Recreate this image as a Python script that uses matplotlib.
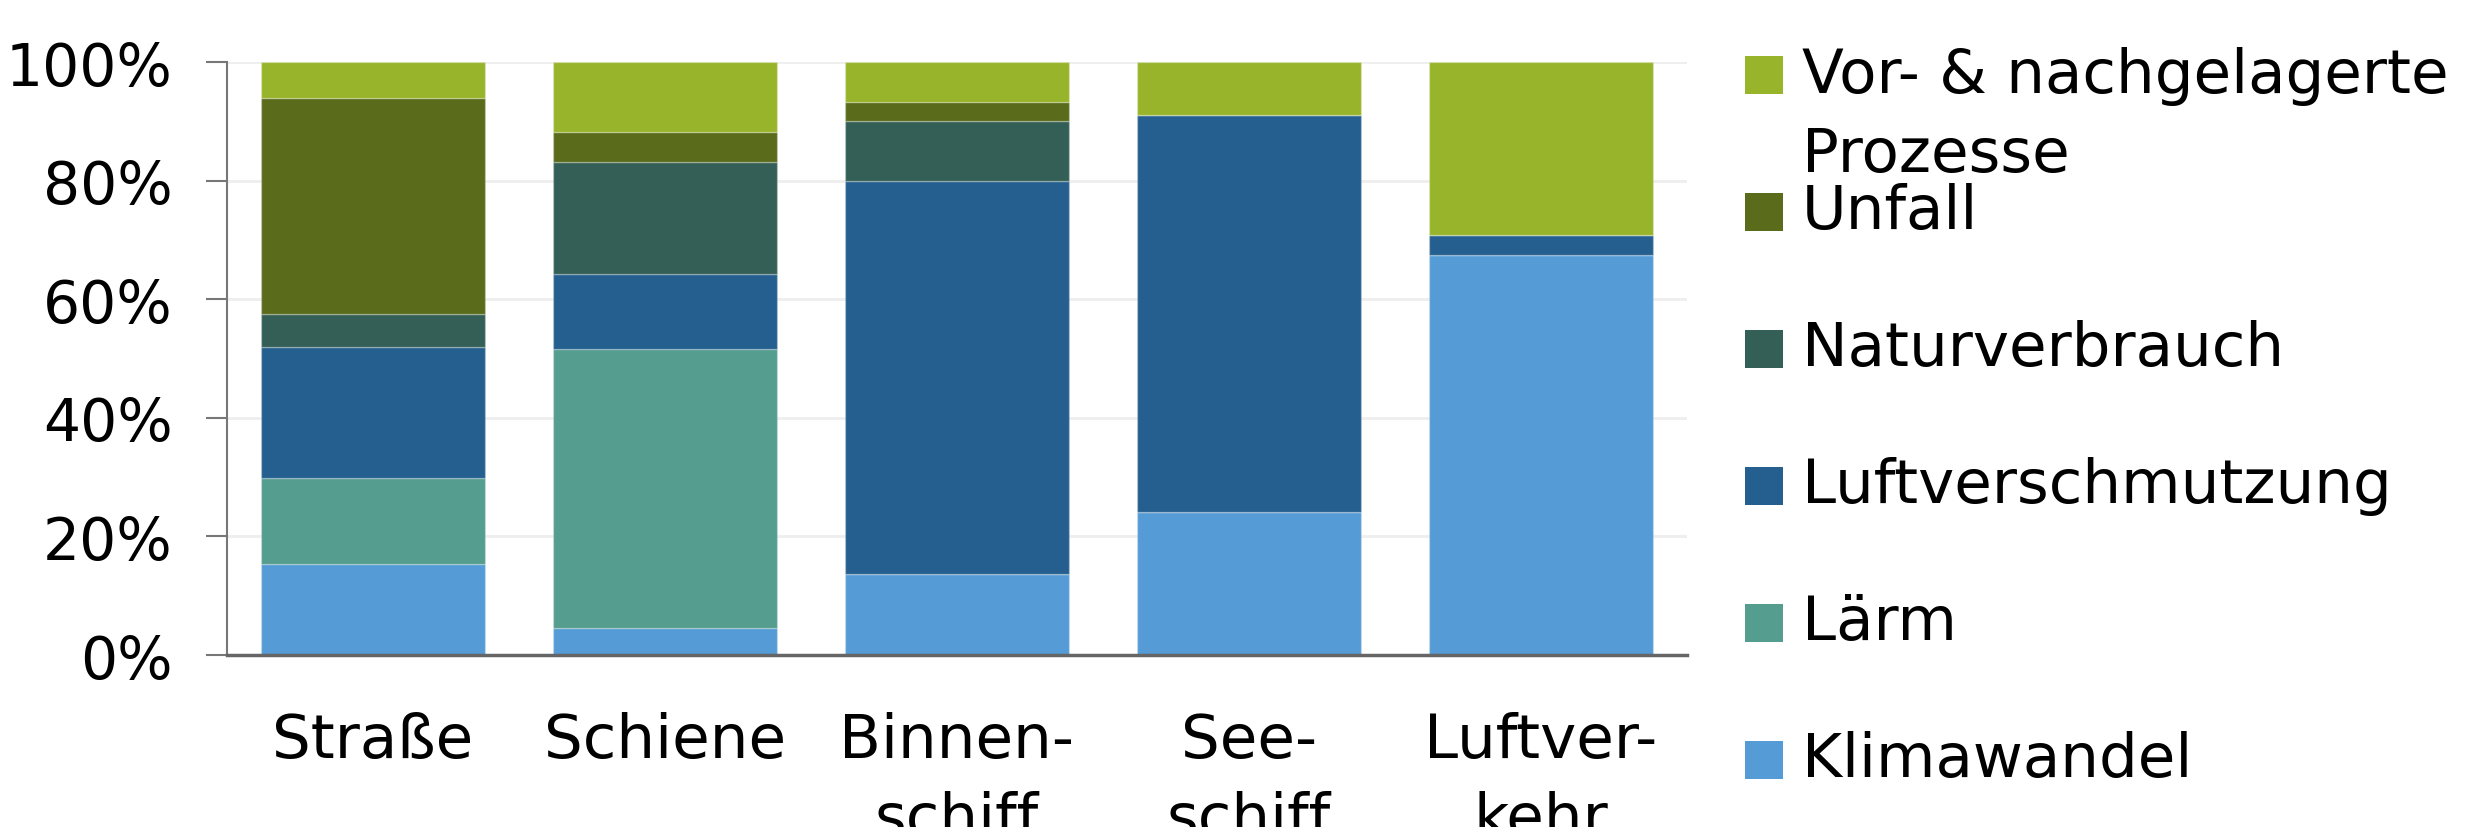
import matplotlib
matplotlib.use('Agg')
import matplotlib.pyplot as plt
import matplotlib.patches as mpatches
import numpy as np

# Daten (Anteile in %), von unten nach oben gestapelt
kategorien = ['Straße', 'Schiene', 'Binnen-\nschiff', 'See-\nschiff', 'Luftver-\nkehr']
serien = ['Klimawandel', 'Lärm', 'Luftverschmutzung', 'Naturverbrauch', 'Unfall',
          'Vor- & nachgelagerte\nProzesse']
klimawandel = [15.4, 4.6, 13.7, 24.2, 67.4]
laerm = [14.4, 47.0, 0.0, 0.0, 0.0]
luftverschmutzung = [22.2, 12.6, 66.3, 66.8, 3.5]
naturverbrauch = [5.5, 18.9, 10.1, 0.0, 0.0]
unfall = [36.5, 5.1, 3.1, 0.0, 0.0]
vor_nach = [6.0, 11.8, 6.8, 9.0, 29.1]

farben = ['#559BD5', '#559D8E', '#245F8F', '#335F57', '#5A6B1B', '#97B42A']

plt.rcParams['font.family'] = ['DejaVu Sans']
FS = 44

fig = plt.figure(figsize=(24.76, 8.28), dpi=100)
ax = fig.add_axes([0.0917, 0.2077, 0.5896, 0.7162])

werte = [klimawandel, laerm, luftverschmutzung, naturverbrauch, unfall, vor_nach]
x = np.arange(len(kategorien))
unten = np.zeros(len(kategorien))
for serie, farbe in zip(werte, farben):
    ax.bar(x, serie, bottom=unten, width=0.767, color=farbe,
           edgecolor=(1, 1, 1, 0.25), linewidth=1, zorder=2)
    unten += np.array(serie)

ax.set_xlim(-0.5, len(kategorien) - 0.5)
ax.set_ylim(0, 100)
ax.set_yticks(np.arange(0, 101, 20))
ax.set_yticklabels([f'{v}%' for v in range(0, 101, 20)], fontsize=42)
ax.set_xticks(x)
ax.set_xticklabels(kategorien, fontsize=FS, linespacing=1.45)
ax.tick_params(axis='y', length=15, width=1.5, color='#777777', pad=24)
ax.tick_params(axis='x', length=0, pad=40)
ax.yaxis.grid(True, color='#EEEEEE', linewidth=2, zorder=0)
ax.set_axisbelow(True)
for s in ['top', 'right']:
    ax.spines[s].set_visible(False)
ax.spines['left'].set_color('#777777')
ax.spines['left'].set_linewidth(1.5)
ax.spines['bottom'].set_color('#666666')
ax.spines['bottom'].set_linewidth(2.5)

# Legende (umgekehrte Reihenfolge, oben beginnend)
leg_x = 1745 / 2476
quad = 38
y0 = 1 - 76 / 828
schritt = 137 / 828
for i, (name, farbe) in enumerate(zip(serien[::-1], farben[::-1])):
    yc = y0 - i * schritt
    fig.patches.append(mpatches.Rectangle((leg_x, yc - quad / 2 / 828), quad / 2476, quad / 828,
                                          transform=fig.transFigure, facecolor=farbe,
                                          edgecolor='none'))
    for j, zeile in enumerate(name.split('\n')):
        fig.text(leg_x + 57 / 2476, yc - j * 80 / 828, zeile, fontsize=FS,
                 va='center', ha='left')

fig.savefig('out.png', dpi=100)
